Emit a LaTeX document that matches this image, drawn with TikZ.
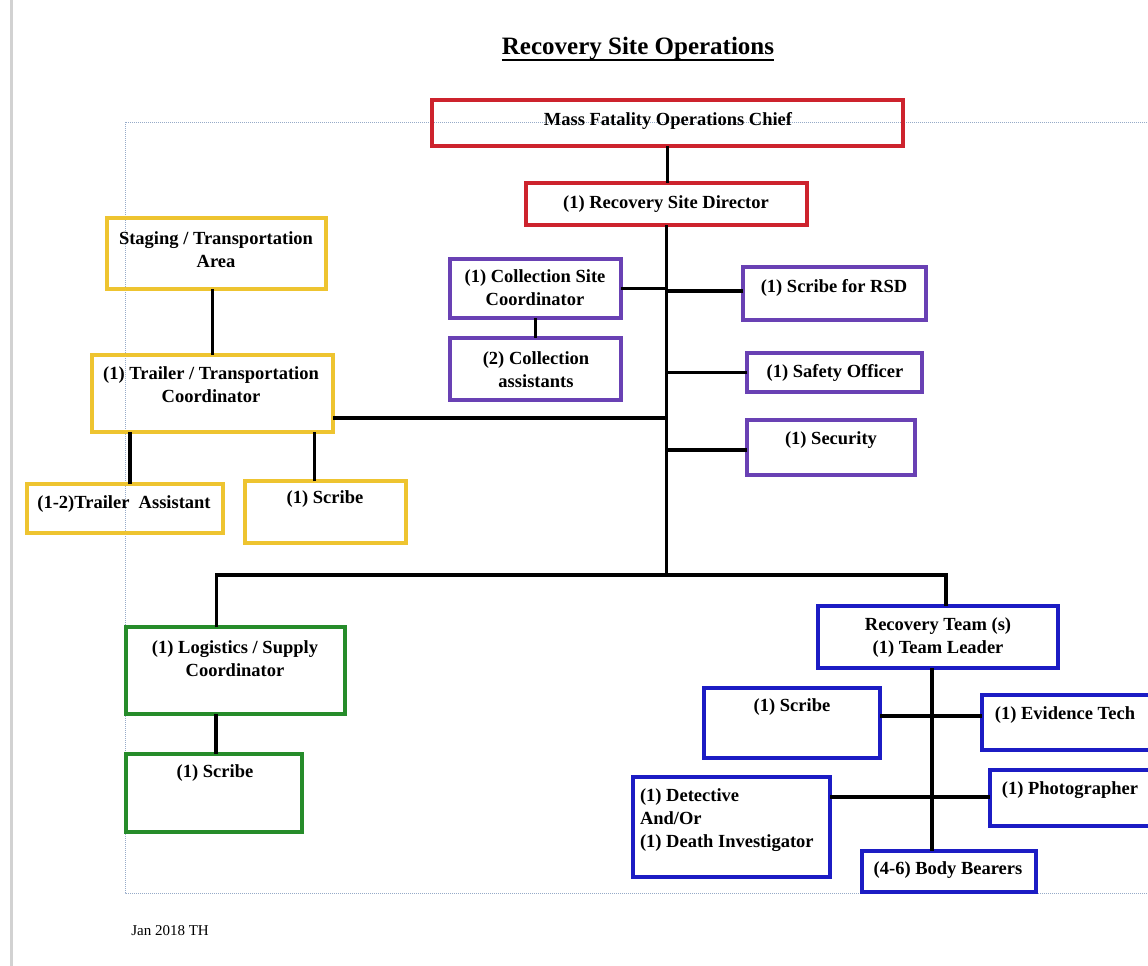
\documentclass[tikz,border=0pt]{standalone}
\usepackage{fontspec}
\setmainfont{Liberation Serif}

\definecolor{chiefred}{RGB}{205,35,45}
\definecolor{sitepurple}{RGB}{105,65,180}
\definecolor{trailyellow}{RGB}{238,196,48}
\definecolor{supplygreen}{RGB}{38,140,42}
\definecolor{teamblue}{RGB}{28,28,196}
\definecolor{pageborder}{RGB}{150,170,200}
\definecolor{pageedge}{RGB}{210,210,210}

\begin{document}
\begin{tikzpicture}[y=1pt, x=1pt, yscale=-1, inner sep=0pt, outer sep=0pt,
  txt/.style={font=\bfseries\fontsize{18.5}{23}\selectfont, align=center},
  redbox/.style={draw=chiefred, line width=3.5pt, rectangle},
  purplebox/.style={draw=sitepurple, line width=3.5pt, rectangle},
  yellowbox/.style={draw=trailyellow, line width=3.5pt, rectangle},
  greenbox/.style={draw=supplygreen, line width=3.5pt, rectangle},
  bluebox/.style={draw=teamblue, line width=3.5pt, rectangle},
  link/.style={draw=black, line width=3.5pt}]
\useasboundingbox (0,0) rectangle (1148,966);
\clip (0,0) rectangle (1148,966);

% page
\path[draw=pageedge, line width=3pt] (11,0) -- (11,966);
\path[draw=pageborder, densely dotted, line width=1pt] (125,122) rectangle (1175,893);

% title
\node[font=\bfseries\fontsize{25}{29}\selectfont] (title) at (638,49) {Recovery Site Operations};
\draw[line width=1.8pt] ([yshift=5pt]title.base west) -- ([yshift=5pt]title.base east);

% command
\node[redbox, minimum width=471pt, minimum height=46pt] (chief) at (667.5,123) {};
\node[txt] (chieftxt) at (668,121) {Mass Fatality Operations Chief};
\node[redbox, minimum width=281pt, minimum height=42pt] (director) at (666.5,204) {};
\node[txt] (directortxt) at (666,204) {(1) Recovery Site Director};
\coordinate (hub) at (666.5,575);

% site staff
\node[purplebox, minimum width=171pt, minimum height=59pt] (csc) at (535.5,288.5) {};
\node[txt] (csctxt) at (535,288) {(1) Collection Site\\Coordinator};
\node[purplebox, minimum width=171pt, minimum height=62pt] (ca) at (535.5,369) {};
\node[txt] (catxt) at (536,369.5) {(2) Collection\\assistants};
\node[purplebox, minimum width=183pt, minimum height=53pt] (rsd) at (834.5,293.5) {};
\node[txt] (rsdtxt) at (834,288) {(1) Scribe for RSD};
\node[purplebox, minimum width=175pt, minimum height=39pt] (safety) at (834.5,372.5) {};
\node[txt] (safetytxt) at (835,373) {(1) Safety Officer};
\node[purplebox, minimum width=168pt, minimum height=55pt] (security) at (831,447.5) {};
\node[txt] (securitytxt) at (831,440) {(1) Security};

% staging / transportation
\node[yellowbox, minimum width=219pt, minimum height=71pt] (staging) at (216.5,253.5) {};
\node[txt] (stagingtxt) at (216,249.5) {Staging / Transportation\\Area};
\node[yellowbox, minimum width=241pt, minimum height=77pt] (trailer) at (212.5,393.5) {};
\node[txt] (trailertxt) at (211,385) {(1) Trailer / Transportation\\Coordinator};
\node[yellowbox, minimum width=196pt, minimum height=49pt] (tasst) at (125,508.5) {};
\node[txt] (tassttxt) at (124,504) {(1-2)Trailer\ \ Assistant};
\node[yellowbox, minimum width=161pt, minimum height=62pt] (yscribe) at (325.5,512) {};
\node[txt] (yscribetxt) at (325,499) {(1) Scribe};

% logistics
\node[greenbox, minimum width=219pt, minimum height=87pt] (lsc) at (235.5,670.5) {};
\node[txt] (lsctxt) at (235,658.5) {(1) Logistics / Supply\\Coordinator};
\node[greenbox, minimum width=176pt, minimum height=78pt] (gscribe) at (214,793) {};
\node[txt] (gscribetxt) at (215,773) {(1) Scribe};

% recovery team
\node[bluebox, minimum width=240pt, minimum height=62pt] (team) at (938,637) {};
\node[txt] (teamtxt) at (938,638) {Recovery Team (s)\\(1) Team Leader};
\node[bluebox, minimum width=176pt, minimum height=70pt] (bscribe) at (792,723) {};
\node[txt] (bscribetxt) at (792,707) {(1) Scribe};
\node[bluebox, minimum width=183pt, minimum height=55pt] (evid) at (1073.5,722.5) {};
\node[txt] (evidtxt) at (1065,715) {(1) Evidence Tech};
\node[bluebox, minimum width=197pt, minimum height=100pt] (detect) at (731.5,827) {};
\node[txt, align=left, anchor=west] (detecttxt) at (640,820) {(1) Detective\\And/Or\\(1) Death Investigator};
\node[bluebox, minimum width=175pt, minimum height=56pt] (photo) at (1077.5,798) {};
\node[txt] (phototxt) at (1070,790) {(1) Photographer};
\node[bluebox, minimum width=174pt, minimum height=41pt] (bearers) at (949,871.5) {};
\node[txt] (bearerstxt) at (948,870) {(4-6) Body Bearers};

% connectors
\draw[link] (chief.south) -- (chief.south |- director.north);
\draw[link] (director.south) -- (hub);
\draw[link] (csc.east) -- (csc.east -| hub);
\draw[link] (csc.south) -- (ca.north);
\draw[link] ([yshift=-2.5pt]rsd.west) -- ([yshift=-2.5pt]rsd.west -| hub);
\draw[link] (safety.west) -- (safety.west -| hub);
\draw[link] ([yshift=2.5pt]security.west) -- ([yshift=2.5pt]security.west -| hub);
\draw[link] ([xshift=-4pt]staging.south) -- ([xshift=-4pt]staging.south |- trailer.north);
\draw[link] ([yshift=24.5pt]trailer.east) -- ([yshift=24.5pt]trailer.east -| hub);
\draw[link] ([xshift=5pt]tasst.north) -- ([xshift=5pt]tasst.north |- trailer.south);
\draw[link] ([xshift=-11pt]yscribe.north) -- ([xshift=-11pt]yscribe.north |- trailer.south);
\draw[link] ([xshift=-19pt]lsc.north) |- (hub) -| ([xshift=8pt]team.north);
\draw[link] ([xshift=2pt]gscribe.north) -- ([xshift=2pt]gscribe.north |- lsc.south);
\draw[link] ([xshift=-6pt]team.south) -- ([xshift=-6pt]team.south |- bearers.north);
\draw[link] ([yshift=-7pt]bscribe.east) -- ([yshift=-7pt]bscribe.east -| evid.west);
\draw[link] ([yshift=-30pt]detect.east) -- ([yshift=-30pt]detect.east -| photo.west);

% footer
\node[font=\fontsize{15}{18}\selectfont] (stamp) at (170,931) {Jan 2018 TH};
\end{tikzpicture}
\end{document}
